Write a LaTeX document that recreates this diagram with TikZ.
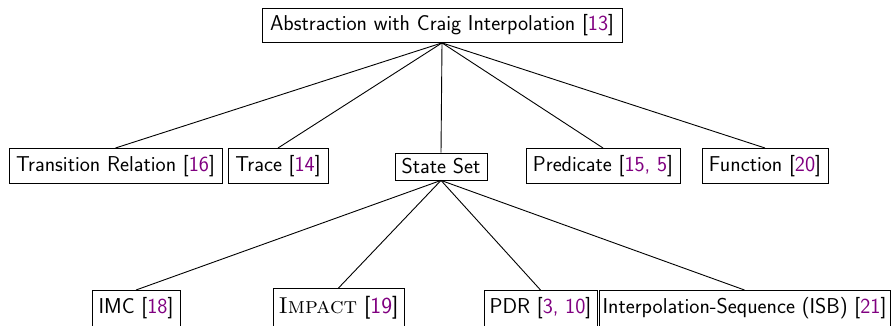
\documentclass[tikz,border=0pt]{standalone}
\usepackage{fontspec}
\definecolor{citec}{RGB}{128,0,128}
\newcommand{\cit}[1]{[{\color{citec}#1}]}
\begin{document}
\begin{tikzpicture}[x=1pt,y=-1pt,
  box/.style={draw,line width=0.9pt,inner sep=0pt,minimum height=35pt,font=\sffamily\fontsize{21.5}{24}\selectfont,anchor=north},
  low/.style={box,minimum height=38pt,text depth=8pt},
  edge/.style={line width=0.9pt}]
\useasboundingbox (0,0) rectangle (893,325);
\node[box,minimum width=360pt,minimum height=34pt] (top) at (442,8) {Abstraction with Craig Interpolation \cit{13}};
\node[box,minimum width=213pt] (tr) at (115.5,148) {Transition Relation \cit{16}};
\node[box,minimum width=100pt] (trace) at (278,148) {Trace \cit{14}};
\node[box,minimum width=92pt,minimum height=27pt] (ss) at (441,152.5) {State Set};
\node[box,minimum width=154pt] (pred) at (603,148) {Predicate \cit{15, 5}};
\node[box,minimum width=126pt] (fun) at (765,148) {Function \cit{20}};
\node[low,minimum width=88pt] (imc) at (136,290) {IMC \cit{18}};
\node[low,minimum width=131pt,minimum height=40pt,font=\fontsize{23}{26}\selectfont] (imp) at (338.5,288) {\textrm{\textsc{Impact}} \sffamily\cit{19}};
\node[low,minimum width=113pt] (pdr) at (540.5,290) {PDR \cit{3, 10}};
\node[low,minimum width=291pt] (isb) at (744.5,290) {Interpolation-Sequence (ISB) \cit{21}};
\foreach \c in {tr,trace,ss,pred,fun} \draw[edge] (top.south) -- (\c.north);
\foreach \c in {imc,imp,pdr,isb} \draw[edge] (ss.south) -- (\c.north);
\end{tikzpicture}
\end{document}
